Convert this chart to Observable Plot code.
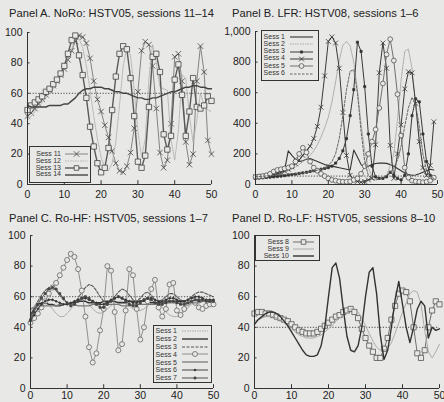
<!DOCTYPE html>
<html><head><meta charset="utf-8">
<script src="https://cdn.jsdelivr.net/npm/d3@7"></script>
<script src="https://cdn.jsdelivr.net/npm/@observablehq/plot@0.6"></script>
<style>
body{margin:0;background:#e8e8e6;width:444px;height:402px;overflow:hidden;position:relative;font-family:"Liberation Sans",Arial,Helvetica,sans-serif;color:#222;}
.title{position:absolute;font-size:11.2px;line-height:12px;white-space:nowrap;color:#222;}
.plot{position:absolute;}
.legend{position:absolute;box-sizing:border-box;border:1px solid #333;background:#e8e8e6;}
.lt{position:absolute;font-size:7px;white-space:nowrap;text-align:right;color:#333;}
.ls{position:absolute;overflow:visible;}
</style>
</head><body>
<script>
// ---------- data ----------
const xTicks = [0, 10, 20, 30, 40, 50];
const yTicksPct = [0, 20, 40, 60, 80, 100];
const yTicksB = [0, 200, 400, 600, 800, 1000];

const titles = [
  "Panel A. NoRo: HSTV05, sessions 11\u201314",
  "Panel B. LFR: HSTV08, sessions 1\u20136",
  "Panel C. Ro-HF: HSTV05, sessions 1\u20137",
  "Panel D. Ro-LF: HSTV05, sessions 8\u201310"
];
const refLevels = [60, 55, 60, 40];

// Panel A
const namesA = ["Sess 11", "Sess 12", "Sess 13", "Sess 14"];
const sessA11 = [45,47,50,53,56,59,62,65,68,72,76,82,88,94,98,97,93,83,68,56,48,39,31,22,14,9,8,12,21,37,61,88,94,92,78,50,21,11,16,40,84,86,68,28,13,20,68,91,74,29,20];
const sessA12 = [42,45,48,51,54,57,60,63,67,71,76,82,89,95,96,90,78,62,45,30,18,11,9,14,28,52,78,90,85,62,35,18,30,70,92,80,64,63,62,30,16,35,72,70,45,28,42,60,52,49,48];
const sessA13 = [49,52,54,56,58,61,63,66,69,73,78,86,95,98,85,72,57,38,25,14,8,11,24,49,71,86,91,89,70,45,15,11,19,51,84,86,74,33,23,32,69,79,59,32,48,70,51,50,52,58,55];
const sessA14 = [52,51,51,51,51,51,52,52,52,52,53,53,55,57,60,62,63,63,64,64,64,63,63,62,61,61,60,60,59,58,57,57,56,56,57,57,58,59,60,61,61,62,63,64,64,65,65,64,64,63,63];

// Panel B
const namesB = ["Sess 1", "Sess 2", "Sess 3", "Sess 4", "Sess 5", "Sess 6"];
const sessB1 = [40,45,50,55,62,70,78,85,95,220,190,165,150,155,165,170,160,150,140,130,125,120,115,110,105,100,95,225,180,130,110,120,130,137,140,140,138,130,120,105,90,75,65,60,62,70,80,90,100,95];
const sessB2 = [40,42,45,48,52,57,63,70,80,90,100,115,130,150,170,190,220,260,310,370,440,540,670,810,910,935,905,800,620,400,220,110,55,40,35,40,60,120,200,420,680,870,885,760,520,280,120,55,40,35];
const sessB3 = [40,42,44,46,48,50,52,55,58,62,65,68,72,76,80,85,90,95,100,105,110,120,140,170,220,300,450,620,930,870,640,330,120,50,40,40,50,80,60,40,30,60,200,450,560,540,330,150,60,40];
const sessB4 = [50,52,55,57,60,65,70,78,88,100,115,135,160,190,220,250,300,380,505,710,935,965,925,760,470,190,60,30,20,15,20,30,40,260,730,925,760,256,40,200,390,625,737,730,530,280,110,60,125,410];
const sessB5 = [50,52,55,60,70,85,95,100,105,110,120,150,200,240,210,150,110,90,70,55,40,30,25,20,18,18,20,30,40,70,120,200,280,360,500,660,850,950,810,590,320,110,45,25,20,18,15,18,25,45];
const sessB6 = [50,52,54,56,58,60,62,64,66,68,70,72,74,77,80,84,88,93,100,110,125,150,200,300,450,620,740,750,600,350,150,60,35,30,35,45,60,80,110,160,250,380,500,570,520,380,200,90,50,40];

// Panel C
const namesC = ["Sess 1", "Sess 2", "Sess 3", "Sess 4", "Sess 5", "Sess 6", "Sess 7"];
const sessC1 = [50,54,57,58,57,55,52,49,47,47,49,52,55,57,58,57,55,52,50,49,50,52,54,56,57,57,56,54,52,51,51,52,54,56,57,56,53,50,48,47,47,48,50,53,55,57,58,58,57,56,55];
const sessC2 = [48,52,55,56,56,55,55,54,54,55,55,56,56,57,57,57,56,56,56,56,57,57,57,57,56,56,56,57,57,57,57,57,57,56,56,56,56,57,57,57,57,57,57,57,57,57,57,57,57,57,57];
const sessC3 = [46,52,57,61,64,66,66,64,61,58,56,55,56,59,63,66,68,67,64,60,57,56,57,60,63,65,64,61,58,57,59,62,63,61,58,57,58,60,62,62,60,58,57,58,60,62,63,63,62,61,60];
const sessC4 = [43,46,49,53,57,62,66,69,74,79,84,88,86,78,64,47,27,17,23,38,52,80,77,50,25,29,51,78,74,52,32,40,57,65,71,53,47,52,68,69,51,48,52,56,58,56,53,52,54,55,55];
const sessC5 = [52,53,54,54,54,54,54,54,55,55,55,55,55,54,54,54,54,55,55,55,55,55,55,55,55,54,54,54,55,55,55,55,55,55,55,55,56,56,56,56,56,56,56,56,56,56,56,57,57,57,57];
const sessC6 = [44,48,52,55,57,58,58,57,56,55,55,56,57,58,59,59,58,57,56,55,55,56,58,59,60,59,58,57,56,56,57,58,59,59,58,57,57,58,59,59,58,57,57,58,59,60,60,59,58,58,58];
const sessC7 = [45,50,55,59,62,65,66,65,62,59,56,54,55,57,59,60,59,57,55,53,53,55,57,59,60,59,57,55,54,54,56,58,59,58,56,55,55,56,57,57,56,55,55,56,57,58,58,58,57,57,57];

// Panel D
const namesD = ["Sess 8", "Sess 9", "Sess 10"];
const sessD8 = [49,50,50,49,49,48,47,46,45,44,42,40,38,37,36,36,36,37,39,41,43,45,47,48,50,51,52,50,46,39,33,28,24,20,20,26,33,45,54,62,64,63,57,40,23,20,25,40,51,57,55];
const sessD9 = [44,45,46,47,47,47,46,45,43,41,39,37,35,34,33,33,33,34,35,37,39,41,44,46,48,50,52,52,50,46,41,36,31,27,25,25,26,30,36,43,50,56,62,64,63,55,38,24,20,24,29];
const sessD10 = [42,45,47,49,50,50,49,47,44,41,37,33,29,25,22,21,21,22,28,40,60,79,82,72,52,34,25,24,28,40,60,76,79,62,35,19,25,40,58,70,55,40,30,40,52,57,54,33,40,38,39];

// ---------- drawing ----------
const BG = "#e8e8e6";
const FONT = '"Liberation Sans", Arial, Helvetica, sans-serif';
const rows = vals => vals.map((v, i) => ({x: i, y: v}));

const panels = [
  {
    title: titles[0], tl: 9, tt: 7, left: 0, top: 22, ml: 27, mr: 11, mt: 10, mb: 18, pad: 6,
    yDomain: [0, 100], yTicks: yTicksPct, fmt: d3.format("d"), ref: refLevels[0],
    series: [
      {name: namesA[0], values: sessA11, stroke: "#6a6a6a", w: 0.8, symbol: "times", r: 2.6, mstroke: "#444"},
      {name: namesA[1], values: sessA12, stroke: "#a8a8a8", w: 0.8, dash: "1.5,1"},
      {name: namesA[2], values: sessA13, stroke: "#5a5a5a", w: 1.4, symbol: "square", r: 3.0, mstroke: "#444", fill: BG},
      {name: namesA[3], values: sessA14, stroke: "#444", w: 1.4}
    ],
    leg: {left: 29, top: 146, w: 62, h: 37, first: 154, rowH: 6.9, textRight: 61, sx: 65, sw: 23}
  },
  {
    title: titles[1], tl: 232, tt: 7, left: 222, top: 22, ml: 33, mr: 7, mt: 9, mb: 18, pad: 6,
    yDomain: [0, 1000], yTicks: yTicksB, fmt: d3.format(","), ref: refLevels[1],
    series: [
      {name: namesB[0], values: sessB1, stroke: "#333", w: 1.1},
      {name: namesB[1], values: sessB2, stroke: "#9a9a9a", w: 0.8, dash: "1.5,1"},
      {name: namesB[2], values: sessB3, stroke: "#3a3a3a", w: 1.0, symbol: "square", r: 1.2, mstroke: "#333", fill: "#333"},
      {name: namesB[3], values: sessB4, stroke: "#3a3a3a", w: 1.0, symbol: "times", r: 2.3, mstroke: "#333"},
      {name: namesB[4], values: sessB5, stroke: "#707070", w: 1.0, symbol: "circle", r: 2.4, mstroke: "#555", fill: BG},
      {name: namesB[5], values: sessB6, stroke: "#666", w: 1.0, dash: "2.5,1.5"}
    ],
    leg: {left: 261, top: 30, w: 58, h: 51, first: 37, rowH: 7.3, textRight: 285, sx: 290, sw: 23}
  },
  {
    title: titles[2], tl: 9, tt: 212, left: 0, top: 226, ml: 30, mr: 9, mt: 9, mb: 18, pad: 3,
    yDomain: [0, 100], yTicks: yTicksPct, fmt: d3.format("d"), ref: refLevels[2],
    series: [
      {name: namesC[0], values: sessC1, stroke: "#a0a0a0", w: 0.9, dash: "1.5,1"},
      {name: namesC[1], values: sessC2, stroke: "#333", w: 1.4},
      {name: namesC[2], values: sessC3, stroke: "#555", w: 1.1, dash: "3,1.5"},
      {name: namesC[3], values: sessC4, stroke: "#858585", w: 0.9, symbol: "circle", r: 2.5, mstroke: "#666", fill: BG},
      {name: namesC[4], values: sessC5, stroke: "#7a7a7a", w: 1.3},
      {name: namesC[5], values: sessC6, stroke: "#444", w: 1.0, symbol: "circle", r: 0.9, mstroke: "#333", fill: "#333"},
      {name: namesC[6], values: sessC7, stroke: "#555", w: 1.0, symbol: "square", r: 1.1, mstroke: "#444", fill: "#444"}
    ],
    leg: {left: 153, top: 325, w: 59, h: 58, first: 331, rowH: 7.8, textRight: 177, sx: 182, sw: 26}
  },
  {
    title: titles[3], tl: 232, tt: 212, left: 222, top: 226, ml: 32, mr: 5, mt: 9, mb: 18, pad: 3,
    yDomain: [0, 100], yTicks: yTicksPct, fmt: d3.format("d"), ref: refLevels[3],
    series: [
      {name: namesD[0], values: sessD8, stroke: "#6e6e6e", w: 1.0, symbol: "square", r: 2.9, mstroke: "#555", fill: BG},
      {name: namesD[1], values: sessD9, stroke: "#a5a5a5", w: 0.9},
      {name: namesD[2], values: sessD10, stroke: "#333", w: 1.4}
    ],
    leg: {left: 255, top: 235, w: 65, h: 26, first: 242, rowH: 7.1, textRight: 289, sx: 293, sw: 21}
  }
];

for (const p of panels) {
  const t = document.createElement("div");
  t.className = "title";
  t.textContent = p.title;
  t.style.left = p.tl + "px";
  t.style.top = p.tt + "px";
  document.body.appendChild(t);

  const yMax = p.yDomain[1];
  const marks = [
    Plot.ruleY([p.ref], {stroke: "#222", strokeWidth: 0.8, strokeDasharray: "1.2,1.6"})
  ];
  for (const s of p.series) {
    const data = rows(s.values);
    marks.push(Plot.line(data, {x: "x", y: "y", stroke: s.stroke, strokeWidth: s.w, strokeDasharray: s.dash}));
    if (s.symbol) {
      marks.push(Plot.dot(data, {x: "x", y: "y", symbol: s.symbol, r: s.r, stroke: s.mstroke, fill: s.fill || "none", strokeWidth: 0.8}));
    }
  }
  marks.push(
    Plot.ruleX([0], {stroke: "#333", strokeWidth: 1}),
    Plot.ruleY([0], {stroke: "#333", strokeWidth: 1}),
    Plot.ruleX(xTicks, {x: d => d, y1: 0, y2: yMax * 0.025, stroke: "#333"}),
    Plot.ruleY(p.yTicks, {y: d => d, x1: 0, x2: 0.7, stroke: "#333"}),
    Plot.axisX(xTicks, {tickSize: 0, tickPadding: p.pad, tickFormat: d3.format("d")}),
    Plot.axisY(p.yTicks, {tickSize: 0, tickPadding: 5, tickFormat: p.fmt})
  );
  const chart = Plot.plot({
    width: 222, height: 180,
    marginLeft: p.ml, marginRight: p.mr, marginTop: p.mt, marginBottom: p.mb,
    x: {domain: [0, 50], label: null},
    y: {domain: p.yDomain, label: null},
    style: {background: "transparent", fontSize: "10.5px", fontFamily: FONT, color: "#222", overflow: "visible"},
    marks
  });
  chart.classList.add("plot");
  chart.style.left = p.left + "px";
  chart.style.top = p.top + "px";
  document.body.appendChild(chart);

  // legend
  const L = p.leg;
  const lh = L.rowH - 0.4;
  const box = document.createElement("div");
  box.className = "legend";
  Object.assign(box.style, {left: L.left + "px", top: L.top + "px", width: L.w + "px", height: L.h + "px"});
  document.body.appendChild(box);
  p.series.forEach((s, i) => {
    const cy = L.first + i * L.rowH;
    const txt = document.createElement("div");
    txt.className = "lt";
    txt.textContent = s.name;
    txt.style.lineHeight = lh + "px";
    txt.style.height = lh + "px";
    txt.style.right = (444 - L.textRight) + "px";
    txt.style.top = (cy - lh / 2) + "px";
    document.body.appendChild(txt);
    const svg = d3.create("svg").attr("class", "ls").attr("width", L.sw).attr("height", 6)
      .style("left", L.sx + "px").style("top", (cy - 3) + "px");
    svg.append("line").attr("x1", 0).attr("x2", L.sw).attr("y1", 3).attr("y2", 3)
      .attr("stroke", s.stroke).attr("stroke-width", s.w).attr("stroke-dasharray", s.dash || null);
    if (s.symbol) {
      const symMap = {times: d3.symbolTimes, square: d3.symbolSquare, circle: d3.symbolCircle};
      const rr = Math.min(s.r, 2.6);
      svg.append("path").attr("transform", `translate(${L.sw / 2},3)`)
        .attr("d", d3.symbol(symMap[s.symbol], rr * rr * Math.PI)())
        .attr("stroke", s.mstroke).attr("fill", s.fill || "none").attr("stroke-width", 0.8);
    }
    document.body.appendChild(svg.node());
  });
}
</script>
</body></html>
